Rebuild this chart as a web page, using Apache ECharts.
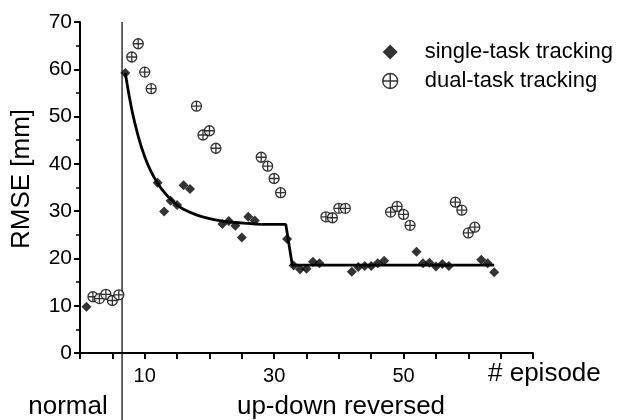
<!DOCTYPE html>
<html>
<head>
<meta charset="utf-8">
<script src="https://cdn.jsdelivr.net/npm/echarts@6/dist/echarts.min.js"></script>
<style>
  html, body { margin: 0; padding: 0; background: #fff; }
  #chart { width: 618px; height: 420px; }
</style>
</head>
<body>
<div id="chart"></div>
<script>
// single-task tracking episodes and RMSE (mm)
const singleEpisodes = [1, 7, 12, 13, 14, 15, 16, 17, 22, 23, 24, 25, 26, 27, 32, 33, 34, 35, 36, 37,
  42, 43, 44, 45, 46, 47, 52, 53, 54, 55, 56, 57, 62, 63, 64];
const singleRmse = [9.8, 59.2, 36.0, 29.9, 32.2, 31.3, 35.5, 34.7, 27.3, 27.9, 26.9, 24.4, 28.8, 28.0,
  24.1, 18.5, 17.7, 17.8, 19.3, 19.0, 17.2, 18.2, 18.4, 18.4, 19.0, 19.5, 21.4, 19.0, 19.1, 18.3,
  18.8, 18.4, 19.7, 19.0, 17.1];

// dual-task tracking episodes and RMSE (mm)
const dualEpisodes = [2, 3, 4, 5, 6, 8, 9, 10, 11, 18, 19, 20, 21, 28, 29, 30, 31, 38, 39, 40, 41,
  48, 49, 50, 51, 58, 59, 60, 61];
const dualRmse = [11.9, 11.5, 12.4, 11.1, 12.3, 62.6, 65.4, 59.4, 55.9, 52.2, 46.1, 47.0, 43.3,
  41.4, 39.5, 36.9, 33.9, 28.8, 28.6, 30.6, 30.6, 29.8, 31.0, 29.3, 27.0, 31.9, 30.2, 25.4, 26.6];

// fitted curve
const fitCurveX = [7, 8, 9, 10, 11, 12, 13, 14, 15, 16, 18, 20, 22, 24, 26, 28];
const fitCurveY = [59.2, 51.5, 45.8, 41.5, 38.3, 35.9, 34.0, 32.5, 31.3, 30.4, 29.2, 28.4, 27.9, 27.6, 27.4, 27.2];
const fitStepX = [28, 31.8, 32.8, 64];
const fitStepY = [27.2, 27.2, 18.6, 18.6];

// phase boundary between normal and up-down reversed
const dividerEpisode = 6.5;

const xLabels = [10, 30, 50];

const zip = (xs, ys) => xs.map((x, i) => [x, ys[i]]);

const crossCircle = 'path://M10,0A10,10,0,1,1,10,20A10,10,0,1,1,10,0ZM10,0L10,20M0,10L20,10';
const font = '"Liberation Sans", Arial, sans-serif';

const chart = echarts.init(document.getElementById('chart'), null, { renderer: 'canvas' });

chart.setOption({
  animation: false,
  backgroundColor: '#fff',
  textStyle: { fontFamily: font, color: '#000' },
  grid: [
    { left: 80, right: 85, top: 22, bottom: 67 },
    { left: 80, right: 85, top: 22, bottom: 0 }
  ],
  legend: {
    orient: 'vertical',
    left: 382,
    top: 41,
    padding: 0,
    itemWidth: 15,
    itemHeight: 15,
    itemGap: 7,
    textStyle: { fontFamily: font, fontSize: 22, color: '#000', padding: [0, 0, 0, 22] },
    data: [
      { name: 'single-task tracking', icon: 'diamond', itemStyle: { color: '#000' } },
      { name: 'dual-task tracking', icon: crossCircle, itemStyle: { color: '#fff', borderColor: '#000', borderWidth: 1.4 } }
    ]
  },
  xAxis: [
    {
      gridIndex: 0,
      type: 'value',
      min: 0,
      max: 70,
      interval: 5,
      splitLine: { show: false },
      axisLine: { lineStyle: { color: '#000', width: 2 } },
      axisTick: { length: 6, lineStyle: { color: '#000', width: 2 } },
      axisLabel: {
        fontSize: 20,
        color: '#000',
        margin: 13,
        formatter: v => (xLabels.includes(v) ? String(v) : '')
      }
    },
    { gridIndex: 1, type: 'value', min: 0, max: 70, show: false }
  ],
  yAxis: [
    {
      gridIndex: 0,
      type: 'value',
      min: 0,
      max: 70,
      interval: 10,
      splitLine: { show: false },
      axisLine: { show: true, lineStyle: { color: '#000', width: 2 } },
      axisTick: { show: true, length: 6, lineStyle: { color: '#000', width: 2 } },
      minorTick: { show: true, splitNumber: 2, length: 4, lineStyle: { color: '#000', width: 1.5 } },
      axisLabel: { fontSize: 21, color: '#000', margin: 8 }
    },
    { gridIndex: 1, type: 'value', min: 0, max: 1, show: false }
  ],
  graphic: [
    {
      type: 'text', x: 22, y: 179, rotation: Math.PI / 2,
      style: { text: 'RMSE [mm]', font: '26px ' + font, fill: '#000', align: 'center', verticalAlign: 'middle' }
    },
    {
      type: 'text', x: 488, y: 374,
      style: { text: '# episode', font: '26px ' + font, fill: '#000', align: 'left', verticalAlign: 'middle' }
    },
    {
      type: 'text', x: 68, y: 407,
      style: { text: 'normal', font: '26px ' + font, fill: '#000', align: 'center', verticalAlign: 'middle' }
    },
    {
      type: 'text', x: 341, y: 407,
      style: { text: 'up-down reversed', font: '26px ' + font, fill: '#000', align: 'center', verticalAlign: 'middle' }
    }
  ],
  series: [
    {
      name: 'divider',
      type: 'line',
      xAxisIndex: 1,
      yAxisIndex: 1,
      data: [[dividerEpisode, 0], [dividerEpisode, 1]],
      symbol: 'none',
      silent: true,
      lineStyle: { color: '#000', width: 1.2 },
      z: 1
    },
    {
      name: 'fit curve',
      type: 'line',
      data: zip(fitCurveX, fitCurveY),
      smooth: 0.4,
      symbol: 'none',
      silent: true,
      lineStyle: { color: '#000', width: 2.8 },
      z: 2
    },
    {
      name: 'fit step',
      type: 'line',
      data: zip(fitStepX, fitStepY),
      symbol: 'none',
      silent: true,
      lineStyle: { color: '#000', width: 2.8 },
      z: 2
    },
    {
      name: 'single-task tracking',
      type: 'scatter',
      data: zip(singleEpisodes, singleRmse),
      symbol: 'diamond',
      symbolSize: 10,
      itemStyle: { color: '#000' },
      z: 3
    },
    {
      name: 'dual-task tracking',
      type: 'scatter',
      data: zip(dualEpisodes, dualRmse),
      symbol: crossCircle,
      symbolSize: 10,
      itemStyle: { color: '#fff', borderColor: '#000', borderWidth: 1.3 },
      z: 3
    }
  ]
});
</script>
</body>
</html>
